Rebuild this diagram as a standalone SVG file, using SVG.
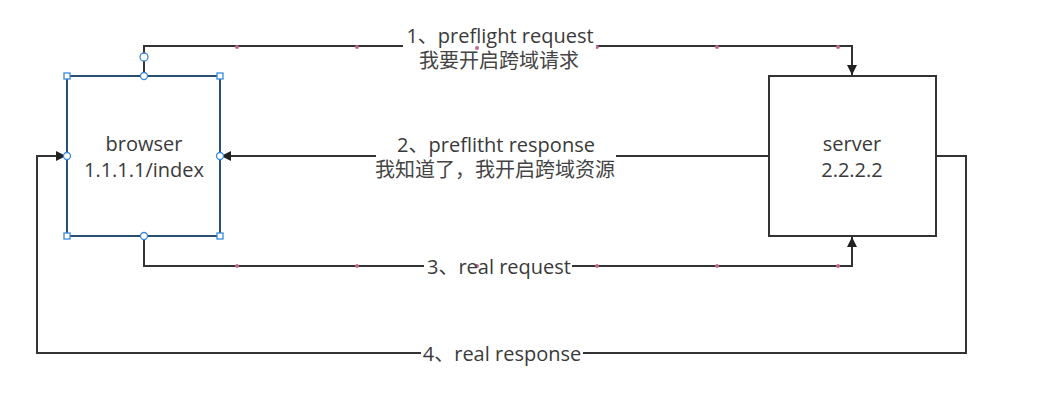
<svg xmlns="http://www.w3.org/2000/svg" width="1041" height="404" viewBox="0 0 1041 404">
<defs>
<style>
.ln{fill:none;stroke:#333;stroke-width:2}
.txt{font-family:"Open Sans","Noto Sans CJK SC",sans-serif;font-size:20px;fill:#3a3a3a;text-anchor:middle}
.cjk{font-size:20px;fill:#444}
.dot{fill:#c5688a}
.h{fill:#fff;stroke:#3b8ad8;stroke-width:1.3}
.lbg{fill:#fff}
</style>
<marker id="arr" viewBox="0 0 10 10" refX="10" refY="5" markerWidth="10" markerHeight="10" markerUnits="userSpaceOnUse" orient="auto">
<path d="M0,0 L10,5 L0,10 z" fill="#222"/>
</marker>
</defs>
<rect width="1041" height="404" fill="#fff"/>
<g id="connectors">
<path class="ln" d="M144,76 V46 H852 V75" marker-end="url(#arr)"/>
<path class="ln" d="M769,156 H221" marker-end="url(#arr)"/>
<path class="ln" d="M144,236 V266 H852 V237" marker-end="url(#arr)"/>
<path class="ln" d="M936,156 H966 V353 H37 V156 H66" marker-end="url(#arr)"/>
<g class="dot">
<circle cx="237" cy="47" r="2"/><circle cx="357" cy="47" r="2"/><circle cx="597" cy="47" r="2"/><circle cx="717" cy="47" r="2"/><circle cx="838" cy="47" r="2"/>
<circle cx="237" cy="266" r="2"/><circle cx="357" cy="266" r="2"/><circle cx="597" cy="266" r="2"/><circle cx="717" cy="266" r="2"/><circle cx="838" cy="266" r="2"/>
</g>
<rect class="lbg" x="403" y="26" width="193" height="46"/>
<rect class="lbg" x="376" y="134" width="240" height="48"/>
<rect class="lbg" x="424" y="256" width="148" height="22"/>
<rect class="lbg" x="421" y="343" width="162" height="22"/>
<circle class="dot" cx="477" cy="48" r="2"/>
<circle class="dot" cx="477" cy="266" r="2"/>
<text class="txt" x="500" y="43">1、preflight request</text>
<text class="txt cjk" x="499" y="68">我要开启跨域请求</text>
<text class="txt" x="496" y="152">2、preflitht response</text>
<text class="txt cjk" x="495" y="177">我知道了，我开启跨域资源</text>
<text class="txt" x="499" y="274">3、real request</text>
<text class="txt" x="502" y="361">4、real response</text>
</g>
<g id="browser">
<rect x="67" y="76" width="153" height="160" fill="#fff" stroke="#2b4f72" stroke-width="2"/>
<text class="txt" x="144" y="151">browser</text>
<text class="txt" x="144" y="177">1.1.1.1/index</text>
<rect class="h" x="64" y="73" width="6" height="6"/>
<rect class="h" x="217" y="73" width="6" height="6"/>
<rect class="h" x="64" y="233" width="6" height="6"/>
<rect class="h" x="217" y="233" width="6" height="6"/>
<circle class="h" cx="144" cy="76" r="3.5"/>
<circle class="h" cx="144" cy="236" r="3.5"/>
<circle class="h" cx="67" cy="156" r="3.5"/>
<circle class="h" cx="220" cy="156" r="3.5"/>
<circle class="h" cx="144" cy="57" r="4"/>
</g>
<g id="server">
<rect x="769" y="76" width="167" height="160" fill="#fff" stroke="#333" stroke-width="2"/>
<text class="txt" x="852" y="151">server</text>
<text class="txt" x="852" y="177">2.2.2.2</text>
</g>
</svg>
